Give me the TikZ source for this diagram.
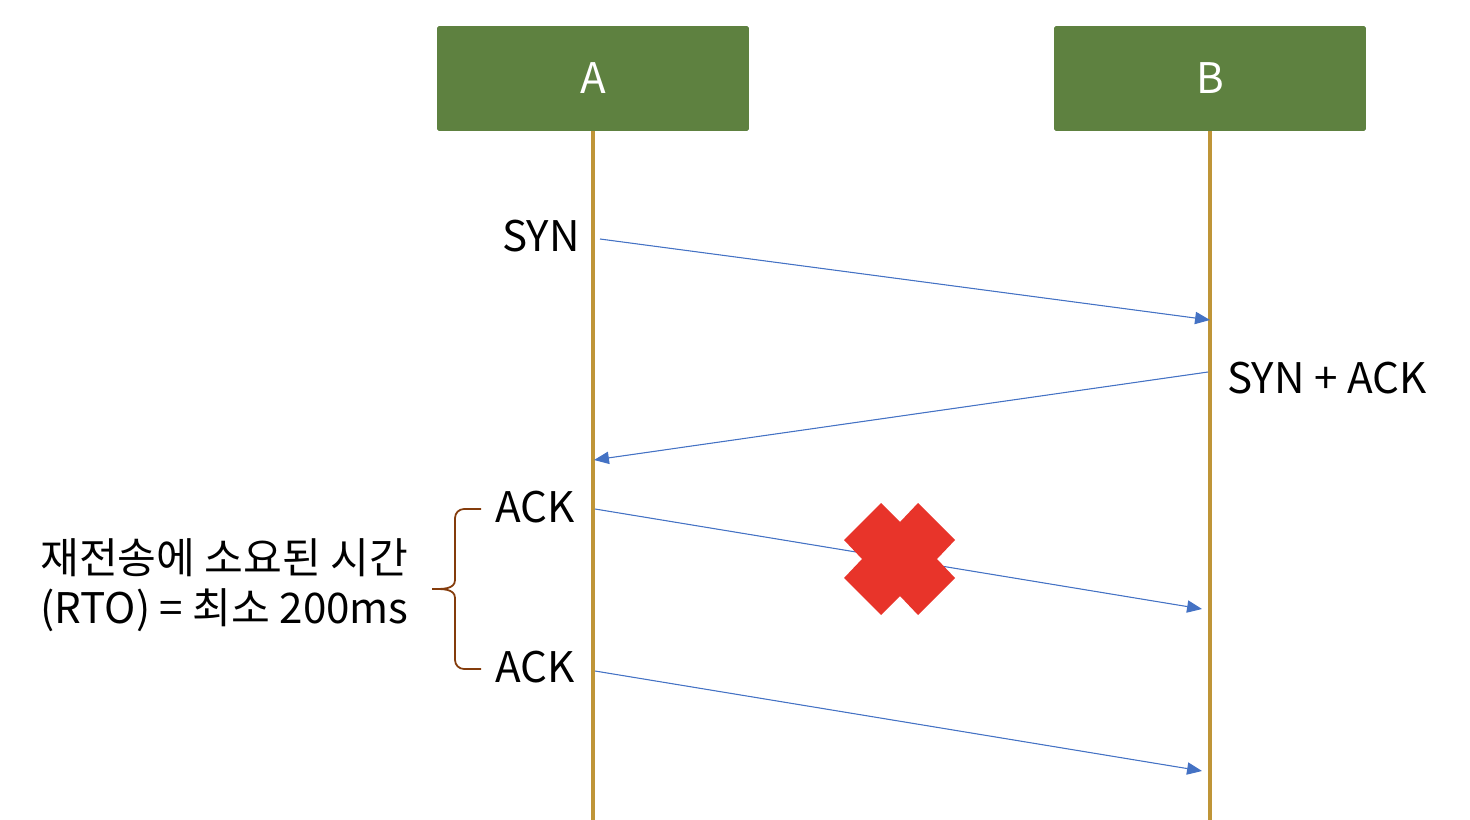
\documentclass[tikz,border=0pt]{standalone}
\usepackage{fontspec}
\setmainfont{Noto Sans CJK KR}
\usetikzlibrary{positioning,calc,arrows.meta}
\definecolor{hostgreen}{HTML}{5E8140}
\definecolor{lifegold}{HTML}{BF9538}
\definecolor{msgblue}{HTML}{4472C4}
\definecolor{lossred}{HTML}{E8342A}
\definecolor{bracebrown}{HTML}{843C0C}

\begin{document}
\begin{tikzpicture}[x=0.02cm, y=-0.02cm, >={Triangle[length=8.5pt, width=7pt]},
    font=\fontsize{24}{28.5}\selectfont,
    host/.style={fill=hostgreen, text=white, rounded corners=1pt,
                 minimum width=6.24cm, minimum height=2.1cm, inner sep=0pt},
    life/.style={draw=lifegold, line width=2.7pt},
    msg/.style={->, draw=msgblue, fill=msgblue, line width=0.6pt},
    lbl/.style={inner sep=0pt}]

%%% ---------- lienzo ----------
\useasboundingbox (0,0) rectangle (1470,820);

%%% ---------- hosts y líneas de vida ----------
\node[host] (hostA) at (593,78.5) {A};
\node[host] (hostB) at (1210,78.5) {B};
\coordinate (endA) at (593,820);
\coordinate (endB) at (1210,820);
\draw[life] (hostA.south) -- (endA);
\draw[life] (hostB.south) -- (endB);

%%% ---------- mensajes ----------
\coordinate (synout)   at (600,239);
\coordinate (synin)    at (1210,320);
\coordinate (saout)    at (1208,372);
\coordinate (sain)     at (594,460);
\coordinate (ackout)   at (595,509);
\coordinate (ackin)    at (1202,609);
\coordinate (reackout) at (595,671);
\coordinate (reackin)  at (1202,771);

\draw[msg] (synout) -- (synin);
\draw[msg] (saout) -- (sain);
\draw[msg] (ackout) -- (ackin);
\draw[msg] (reackout) -- (reackin);

%%% ---------- etiquetas ----------
\node[lbl, anchor=east] (synlbl)   at (580,236) {SYN};
\node[lbl, anchor=west] (salbl)    at (1227,378) {SYN + ACK};
\node[lbl, anchor=east] (acklbl)   at (575,507) {ACK};
\node[lbl, anchor=east] (reacklbl) at (575,667) {ACK};

%%% ---------- paquete perdido ----------
\fill[lossred, shift={(900,559)}]
    (-19,-56) -- (0,-37) -- (18,-56) -- (55,-19) -- (37,0) -- (55,19)
    -- (18,56) -- (0,37) -- (-19,56) -- (-56,19) -- (-38,0) -- (-56,-19) -- cycle;

%%% ---------- RTO ----------
\coordinate (bracetip) at (432,589);
\draw[bracebrown, line width=1pt]
    (481,509) -- (464,509) to[out=180,in=90] (455,518) -- (455,580)
    to[out=-90,in=0] (bracetip)
    (481,669) -- (464,669) to[out=180,in=-90] (455,660) -- (455,598)
    to[out=90,in=0] (bracetip);
\node[lbl, anchor=west, align=left] (rtolbl) at (40,585)
    {재전송에 소요된 시간\\(RTO) = 최소 200ms};

\end{tikzpicture}
\end{document}
